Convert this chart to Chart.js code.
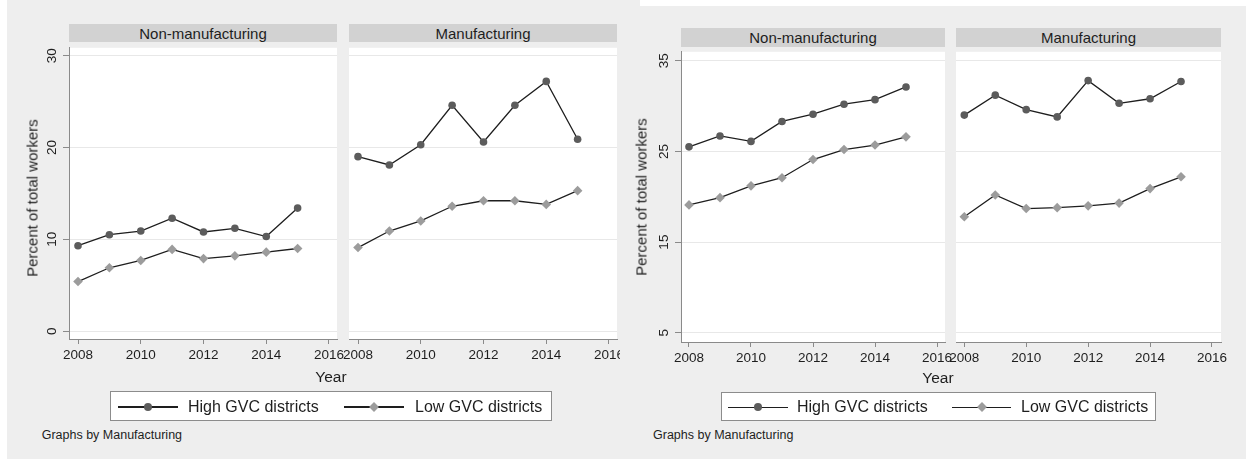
<!DOCTYPE html>
<html>
<head>
<meta charset="utf-8">
<script src="https://cdn.jsdelivr.net/npm/chart.js@4.4.1/dist/chart.umd.min.js"></script>
<style>
  html, body { margin: 0; padding: 0; background: #ffffff; }
  body { width: 1246px; height: 459px; position: relative; overflow: hidden;
         font-family: "Liberation Sans", Arial, sans-serif; color: #1e1e1e; }
  .fig { position: absolute; background: #eeeeee; overflow: hidden; }
  .fig canvas { position: absolute; }
  .strip { position: absolute; background: #d2d2d2; font-size: 15px; color: #1e1e1e;
           display: flex; align-items: center; justify-content: center; }
  .txt { position: absolute; white-space: nowrap; transform: translate(-50%, -50%); }
  .ytitle { position: absolute; white-space: nowrap; font-size: 15px;
            transform: translate(-50%, -50%) rotate(-90deg); }
  .legend { position: absolute; background: #ffffff; border: 1.5px solid #8c8c8c; box-sizing: border-box; }
  .lg-line { position: absolute; height: 1.4px; background: #1e1e1e; }
  .lg-dot { position: absolute; width: 8px; height: 8px; border-radius: 50%; background: #5c5c5c;
            transform: translate(-50%, -50%); }
  .lg-dia { position: absolute; width: 7px; height: 7px; background: #9c9c9c;
            transform: translate(-50%, -50%) rotate(45deg); }
  .lg-txt { position: absolute; font-size: 16px; white-space: nowrap; transform: translateY(-50%); }
  .note { position: absolute; font-size: 12.5px; white-space: nowrap; transform: translateY(-50%); }
</style>
</head>
<body>
<script>
// ---- data -------------------------------------------------------------
const years = [2008, 2009, 2010, 2011, 2012, 2013, 2014, 2015];
const xTicks = [2008, 2010, 2012, 2014, 2016];

// first figure
const yTicksA = [0, 10, 20, 30];
const nonMfgHighA = [9.3, 10.5, 10.9, 12.3, 10.8, 11.2, 10.3, 13.4];
const nonMfgLowA  = [5.4, 6.9, 7.7, 8.9, 7.9, 8.2, 8.6, 9.0];
const mfgHighA    = [19.0, 18.1, 20.3, 24.6, 20.6, 24.6, 27.2, 20.9];
const mfgLowA     = [9.1, 10.9, 12.0, 13.6, 14.2, 14.2, 13.8, 15.3];

// second figure
const yTicksB = [5, 15, 25, 35];
const nonMfgHighB = [25.5, 26.7, 26.1, 28.3, 29.1, 30.2, 30.7, 32.1];
const nonMfgLowB  = [19.1, 19.9, 21.2, 22.1, 24.1, 25.2, 25.7, 26.6];
const mfgHighB    = [29.0, 31.2, 29.6, 28.8, 32.8, 30.3, 30.8, 32.7];
const mfgLowB     = [17.8, 20.2, 18.7, 18.8, 19.0, 19.3, 20.9, 22.2];

const panelTitles = ['Non-manufacturing', 'Manufacturing'];
const seriesNames = ['High GVC districts', 'Low GVC districts'];
const yTitle = 'Percent of total workers';
const xTitle = 'Year';
const note = 'Graphs by Manufacturing';

// ---- drawing ----------------------------------------------------------
const FONT = '"Liberation Sans", Arial, sans-serif';
const AXIS = '#8a8a8a';

const plotBg = {
  id: 'plotBg',
  beforeDraw(chart) {
    const { ctx, chartArea: a } = chart;
    ctx.save();
    ctx.fillStyle = '#ffffff';
    ctx.fillRect(a.left, a.top, a.right - a.left, a.bottom - a.top);
    ctx.restore();
  }
};

// Stata-style vertical tick labels on the y axis
const rotatedYLabels = {
  id: 'rotatedYLabels',
  afterDraw(chart, args, opts) {
    if (!opts.show) return;
    const { ctx, chartArea: a } = chart;
    const sc = chart.scales.y;
    ctx.save();
    ctx.fillStyle = '#1e1e1e';
    ctx.font = '13.5px ' + FONT;
    ctx.textAlign = 'center';
    ctx.textBaseline = 'middle';
    sc.ticks.forEach(t => {
      const y = sc.getPixelForValue(t.value);
      ctx.save();
      ctx.translate(a.left - 16.5, y);
      ctx.rotate(-Math.PI / 2);
      ctx.fillText(String(t.value), 0, 0);
      ctx.restore();
    });
    ctx.restore();
  }
};

function pts(vals) { return years.map((y, i) => ({ x: y, y: vals[i] })); }

function makeFigure(fig) {
  const box = document.createElement('div');
  box.className = 'fig';
  Object.assign(box.style, { left: fig.left + 'px', top: fig.top + 'px',
                             width: fig.width + 'px', height: fig.height + 'px' });
  document.body.appendChild(box);
  const X = v => (v - fig.left) + 'px';
  const Y = v => (v - fig.top) + 'px';

  fig.panels.forEach((p, idx) => {
    // strip header
    const s = document.createElement('div');
    s.className = 'strip';
    Object.assign(s.style, { left: X(p.l), top: Y(fig.stripTop), width: (p.r - p.l) + 'px',
                             height: (fig.stripBottom - fig.stripTop) + 'px' });
    s.textContent = panelTitles[idx];
    box.appendChild(s);

    const showY = idx === 0;
    const yAxisW = showY ? p.l - fig.left : 0;
    const padL = showY ? 0 : 24, padR = 24, xAxisH = 40;
    const plotW = p.r - p.l, plotH = p.b - p.t;
    const cv = document.createElement('canvas');
    cv.width = yAxisW + padL + plotW + padR;
    cv.height = plotH + xAxisH;
    Object.assign(cv.style, { left: X(p.l - yAxisW - padL), top: Y(p.t),
                              width: cv.width + 'px', height: cv.height + 'px' });
    box.appendChild(cv);

    new Chart(cv, {
      type: 'line',
      data: {
        datasets: [
          { label: seriesNames[0], data: pts(p.high), borderColor: '#1e1e1e', borderWidth: 1.3,
            pointStyle: 'circle', pointRadius: 3.8, pointBackgroundColor: '#5c5c5c',
            pointBorderColor: '#5c5c5c', pointBorderWidth: 0, tension: 0 },
          { label: seriesNames[1], data: pts(p.low), borderColor: '#1e1e1e', borderWidth: 1.3,
            pointStyle: 'rectRot', pointRadius: 4.8, pointBackgroundColor: '#9c9c9c',
            pointBorderColor: '#9c9c9c', pointBorderWidth: 0, tension: 0 }
        ]
      },
      options: {
        responsive: false, animation: false, devicePixelRatio: 1,
        layout: { padding: { left: padL, right: padR, top: 0, bottom: 0 } },
        plugins: { legend: { display: false }, tooltip: { enabled: false },
                   rotatedYLabels: { show: showY } },
        scales: {
          x: {
            type: 'linear', min: p.xMin, max: p.xMax,
            afterBuildTicks: sc => { sc.ticks = xTicks.map(v => ({ value: v })); },
            afterFit: sc => { sc.height = xAxisH; sc.paddingLeft = 0; sc.paddingRight = 0; },
            grid: { drawOnChartArea: false, drawTicks: true, tickLength: 5, tickColor: AXIS },
            border: { display: true, color: AXIS, width: 1 },
            ticks: { padding: 3.5, color: '#1e1e1e', font: { family: FONT, size: 13.5 },
                     autoSkip: false, maxRotation: 0, minRotation: 0,
                     callback: v => String(v) }
          },
          y: {
            type: 'linear', min: fig.yMin, max: fig.yMax,
            afterBuildTicks: sc => { sc.ticks = fig.yTicks.map(v => ({ value: v })); },
            afterFit: sc => { sc.width = yAxisW; sc.paddingTop = 0; sc.paddingBottom = 0; },
            grid: { color: '#e8e8e8', lineWidth: 1, drawTicks: showY, tickLength: 6, tickColor: AXIS },
            border: { display: showY, color: AXIS, width: 1 },
            ticks: { display: false }
          }
        }
      },
      plugins: [plotBg, rotatedYLabels]
    });
  });

  // axis titles
  const yt = document.createElement('div');
  yt.className = 'ytitle';
  Object.assign(yt.style, { left: X(fig.yTitleX), top: Y(fig.yTitleY) });
  yt.textContent = yTitle;
  box.appendChild(yt);

  const xt = document.createElement('div');
  xt.className = 'txt';
  Object.assign(xt.style, { left: X(fig.xTitleX), top: Y(fig.xTitleY), fontSize: '15.5px' });
  xt.textContent = xTitle;
  box.appendChild(xt);

  // legend
  const lg = fig.legend;
  const lb = document.createElement('div');
  lb.className = 'legend';
  Object.assign(lb.style, { left: X(lg.l), top: Y(lg.t), width: (lg.r - lg.l) + 'px',
                            height: (lg.b - lg.t) + 'px' });
  box.appendChild(lb);
  const cy = (lg.b - lg.t) / 2;
  lg.items.forEach((it, i) => {
    const ln = document.createElement('div');
    ln.className = 'lg-line';
    Object.assign(ln.style, { left: (it.l0 - lg.l) + 'px', width: (it.l1 - it.l0) + 'px',
                              top: (cy - 0.7) + 'px' });
    lb.appendChild(ln);
    const mk = document.createElement('div');
    mk.className = i === 0 ? 'lg-dot' : 'lg-dia';
    Object.assign(mk.style, { left: ((it.l0 + it.l1) / 2 - lg.l) + 'px', top: cy + 'px' });
    lb.appendChild(mk);
    const tx = document.createElement('div');
    tx.className = 'lg-txt';
    Object.assign(tx.style, { left: (it.tx - lg.l) + 'px', top: cy + 'px' });
    tx.textContent = seriesNames[i];
    lb.appendChild(tx);
  });

  const nt = document.createElement('div');
  nt.className = 'note';
  Object.assign(nt.style, { left: X(fig.noteX), top: Y(fig.noteY) });
  nt.textContent = note;
  box.appendChild(nt);
}

makeFigure({
  left: 7, top: 0, width: 633, height: 459,
  stripTop: 24, stripBottom: 42,
  yMin: -0.857, yMax: 30.857, yTicks: yTicksA,
  panels: [
    { l: 69, r: 337, t: 43, b: 339, xMin: 2007.713, xMax: 2016.255, high: nonMfgHighA, low: nonMfgLowA },
    { l: 349, r: 617, t: 43, b: 339, xMin: 2007.713, xMax: 2016.255, high: mfgHighA, low: mfgLowA }
  ],
  yTitleX: 31.7, yTitleY: 198,
  xTitleX: 331, xTitleY: 377,
  legend: { l: 110, t: 391, r: 552, b: 421,
            items: [{ l0: 117, l1: 177, tx: 187 }, { l0: 343, l1: 403, tx: 414 }] },
  noteX: 41.7, noteY: 435
});

makeFigure({
  left: 620, top: 6, width: 626, height: 453,
  stripTop: 28, stripBottom: 47,
  yMin: 3.992, yMax: 35.976, yTicks: yTicksB,
  panels: [
    { l: 681, r: 945, t: 47, b: 342, xMin: 2007.742, xMax: 2016.258, high: nonMfgHighB, low: nonMfgLowB },
    { l: 956, r: 1221, t: 47, b: 342, xMin: 2007.732, xMax: 2016.291, high: mfgHighB, low: mfgLowB }
  ],
  yTitleX: 641, yTitleY: 197,
  xTitleX: 938, xTitleY: 378,
  legend: { l: 721, t: 391.5, r: 1156, b: 421,
            items: [{ l0: 727, l1: 787, tx: 796 }, { l0: 951, l1: 1010, tx: 1020 }] },
  noteX: 653, noteY: 435
});
</script>
</body>
</html>
